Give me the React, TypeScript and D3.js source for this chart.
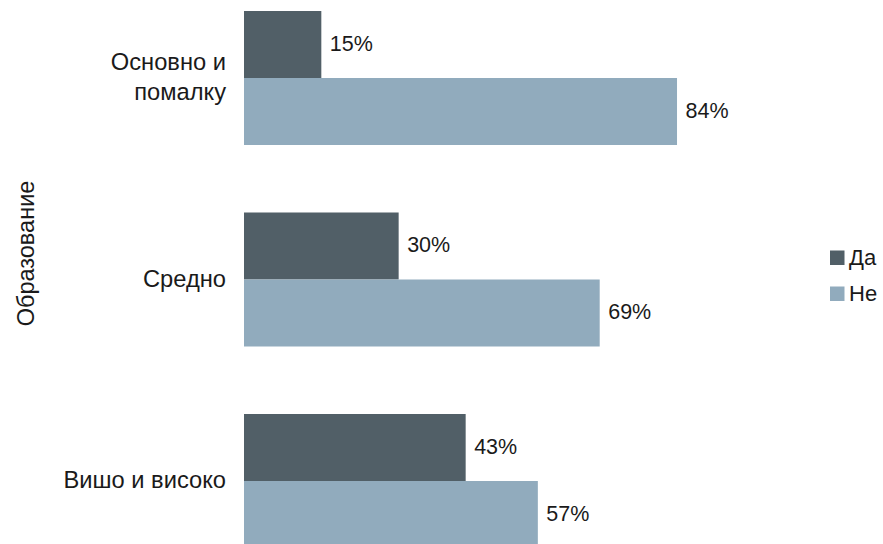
import React from "react";
import * as d3 from "d3";

const categories = ["Основно и помалку", "Средно", "Вишо и високо"];
const categoryLines = [["Основно и", "помалку"], ["Средно"], ["Вишо и високо"]];
const seriesNames = ["Да", "Не"];
const yesValues = [15, 30, 43];
const noValues = [84, 69, 57];
const seriesColors = ["#515f67", "#91abbd"];
const axisTitle = "Образование";

const W = 883;
const H = 544;

export default function App() {
  const x = d3.scaleLinear().domain([0, 100]).range([244, 759.5]);
  const y = d3.scaleBand<string>().domain(categories).range([11, 548]).paddingInner(0.335).paddingOuter(0);
  const inner = d3.scaleBand<string>().domain(seriesNames).range([0, y.bandwidth()]).padding(0);
  const values = [yesValues, noValues];

  return (
    <svg
      width={W}
      height={H}
      style={{ position: "absolute", left: 0, top: 0, background: "#fff", fontFamily: '"Liberation Sans", Arimo, Arial, sans-serif' }}
    >
      {categories.map((c, ci) => (
        <g key={c}>
          {seriesNames.map((s, si) => {
            const v = values[si][ci];
            const y0 = (y(c) as number) + (inner(s) as number);
            return (
              <g key={s}>
                <rect x={x(0)} y={y0} width={x(v) - x(0)} height={inner.bandwidth()} fill={seriesColors[si]} />
                <text x={x(v) + 8.5} y={y0 + inner.bandwidth() / 2} dy="0.3em" fontSize={21.5} fill="#1a1a1a">
                  {v}%
                </text>
              </g>
            );
          })}
          {(() => {
            const lines = categoryLines[ci];
            const cy = (y(c) as number) + y.bandwidth() / 2;
            const lh = 30.7;
            return (
              <text textAnchor="end" fontSize={23.7} fill="#1a1a1a">
                {lines.map((l, li) => (
                  <tspan key={li} x={226} y={cy + (li - (lines.length - 1) / 2) * lh} dy="0.3em">
                    {l}
                  </tspan>
                ))}
              </text>
            );
          })()}
        </g>
      ))}
      <text transform={`translate(${33.5},${253.5}) rotate(-90)`} textAnchor="middle" fontSize={23.5} fill="#1a1a1a">
        {axisTitle}
      </text>
      {seriesNames.map((s, si) => (
        <g key={s} transform={`translate(830,${250.5 + si * 36})`}>
          <rect width={14.5} height={14.5} fill={seriesColors[si]} />
          <text x={19} y={14.5} fontSize={22} fill="#1a1a1a">
            {s}
          </text>
        </g>
      ))}
    </svg>
  );
}
